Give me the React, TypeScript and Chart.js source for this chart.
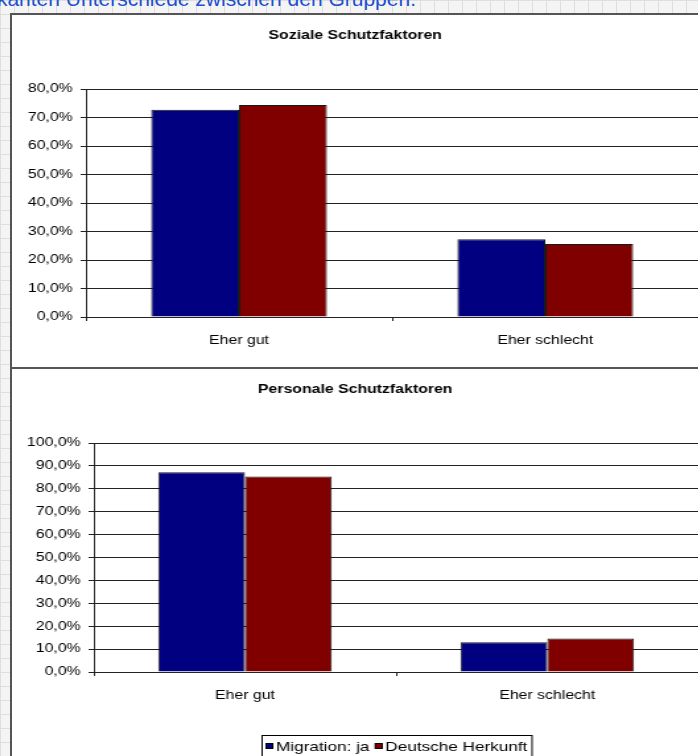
import React, { useEffect, useRef } from "react";
import { Chart, registerables } from "chart.js";
Chart.register(...registerables);

const SX = 1.32;
const FONT = "'Liberation Sans', Arial, sans-serif";

const categories = ["Eher gut", "Eher schlecht"];
const seriesNames = ["Migration: ja", "Deutsche Herkunft"];
const seriesColors = ["#000080", "#800000"];
const sozialeTitle = "Soziale Schutzfaktoren";
const sozialeMigration = [72.7, 27.3];
const sozialeDeutsch = [74.4, 25.6];
const sozialeMax = 80;
const personaleTitle = "Personale Schutzfaktoren";
const personaleMigration = [87.2, 13.0];
const personaleDeutsch = [85.4, 14.6];
const personaleMax = 100;
const tickStep = 10;
const headline = "keine signifikanten Unterschiede zwischen den Gruppen.";

const fmt = (v: number) => v.toFixed(1).replace(".", ",") + "%";

const boxLegend = {
  id: "boxLegend",
  afterDraw(chart: any, _args: any, opts: any) {
    if (!opts || !opts.show) return;
    const ctx = chart.ctx as CanvasRenderingContext2D;
    const ca = chart.chartArea;
    ctx.save();
    ctx.font = `13px ${FONT}`;
    const box = 6, gap = 2, pad = 3, itemGap = 4;
    const ds = chart.data.datasets;
    const widths = ds.map((d: any) => ctx.measureText(d.label).width);
    const total =
      pad * 2 + ds.length * (box + gap) + widths.reduce((a: number, b: number) => a + b, 0) + (ds.length - 1) * itemGap;
    const left = Math.round((ca.left + ca.right) / 2 - total / 2);
    const top = opts.top;
    const h = opts.height;
    ctx.fillStyle = "#fff";
    ctx.fillRect(left, top, total, h);
    ctx.strokeStyle = "#000";
    ctx.lineWidth = 1;
    ctx.strokeRect(left + 0.5, top + 0.5, total, h);
    let x = left + pad;
    const cy = top + h / 2;
    ds.forEach((d: any, i: number) => {
      ctx.fillStyle = d.backgroundColor;
      ctx.fillRect(x, cy - box / 2, box, box);
      ctx.strokeStyle = "#000";
      ctx.strokeRect(x + 0.5, cy - box / 2 + 0.5, box - 1, box - 1);
      x += box + gap;
      ctx.fillStyle = "#000";
      ctx.textBaseline = "middle";
      ctx.textAlign = "left";
      ctx.fillText(d.label, x, cy + 1);
      x += widths[i] + itemGap;
    });
    ctx.restore();
  },
};

type Props = {
  title: string;
  migration: number[];
  deutsch: number[];
  max: number;
  yWidth: number;
  height: number;
  titleTop: number;
  titleBottom: number;
  bottomPad: number;
  legend?: boolean;
  legendTop?: number;
};

function BarChart(p: Props) {
  const ref = useRef<HTMLCanvasElement>(null);
  useEffect(() => {
    const tickFont = { family: FONT, size: 12 };
    const chart = new Chart(ref.current!, {
      type: "bar",
      data: {
        labels: categories,
        datasets: [
          {
            label: seriesNames[0],
            data: p.migration,
            backgroundColor: seriesColors[0],
            borderColor: "#1a1a1a",
            borderWidth: 1,
            categoryPercentage: 0.574,
            barPercentage: 1,
          },
          {
            label: seriesNames[1],
            data: p.deutsch,
            backgroundColor: seriesColors[1],
            borderColor: "#1a1a1a",
            borderWidth: 1,
            categoryPercentage: 0.574,
            barPercentage: 1,
          },
        ],
      },
      options: {
        responsive: false,
        animation: false,
        devicePixelRatio: 1,
        layout: { padding: { left: 0, right: 3, top: 0, bottom: p.bottomPad } },
        plugins: {
          legend: { display: false },
          tooltip: { enabled: false },
          title: {
            display: true,
            text: p.title,
            color: "#000",
            font: { family: FONT, size: 12, weight: "bold" },
            padding: { top: p.titleTop, bottom: p.titleBottom },
          },
          boxLegend: { show: !!p.legend, top: p.legendTop, height: 22 },
        } as any,
        scales: {
          x: {
            grid: {
              display: true,
              drawOnChartArea: false,
              drawTicks: true,
              tickLength: 4,
              offset: true,
              color: "#222",
            },
            border: { display: true, color: "#222" },
            ticks: { color: "#000", font: tickFont, padding: 12 },
            afterFit: (s: any) => {
              s.height = 40;
            },
          },
          y: {
            min: 0,
            max: p.max,
            ticks: {
              stepSize: tickStep,
              color: "#000",
              font: tickFont,
              padding: 6,
              callback: (v: any) => fmt(Number(v)),
            },
            grid: { color: "#222", tickLength: 4, tickColor: "#222" },
            border: { display: true, color: "#222" },
            afterFit: (s: any) => {
              s.width = p.yWidth;
            },
          },
        } as any,
      },
      plugins: [boxLegend as any],
    });
    return () => chart.destroy();
  }, []);
  return (
    <canvas
      ref={ref}
      width={523}
      height={p.height}
      style={{ position: "absolute", left: 0, top: 0, transform: `scaleX(${SX})`, transformOrigin: "0 0" }}
    />
  );
}

export default function App() {
  return (
    <div
      style={{
        position: "absolute",
        left: 0,
        top: 0,
        width: 698,
        height: 756,
        overflow: "hidden",
        backgroundColor: "#f4f4f4",
        backgroundImage:
          "linear-gradient(#dedede 1px, transparent 1px), linear-gradient(90deg, #dedede 1px, transparent 1px)",
        backgroundSize: "14px 14px",
        fontFamily: FONT,
      }}
    >
      <div
        style={{
          position: "absolute",
          right: 282,
          top: -13,
          fontSize: 21,
          color: "#1f50d0",
          whiteSpace: "nowrap",
          lineHeight: "24px",
        }}
      >
        {headline}
      </div>
      <div
        style={{
          position: "absolute",
          left: 10,
          top: 13,
          width: 700,
          height: 760,
          border: "2px solid #555",
          background: "#fff",
          boxSizing: "border-box",
        }}
      />
      <div style={{ position: "absolute", left: 10, top: 367, width: 700, height: 2, background: "#555" }} />
      <div style={{ position: "absolute", left: 12, top: 15, width: 690, height: 352, overflow: "hidden" }}>
        <BarChart
          title={sozialeTitle}
          migration={sozialeMigration}
          deutsch={sozialeDeutsch}
          max={sozialeMax}
          yWidth={56}
          height={352}
          titleTop={13}
          titleBottom={46.6}
          bottomPad={10}
        />
      </div>
      <div style={{ position: "absolute", left: 12, top: 369, width: 690, height: 390, overflow: "hidden" }}>
        <BarChart
          title={personaleTitle}
          migration={personaleMigration}
          deutsch={personaleDeutsch}
          max={personaleMax}
          yWidth={62}
          height={390}
          titleTop={13}
          titleBottom={46.6}
          bottomPad={47}
          legend
          legendTop={366}
        />
      </div>
    </div>
  );
}
